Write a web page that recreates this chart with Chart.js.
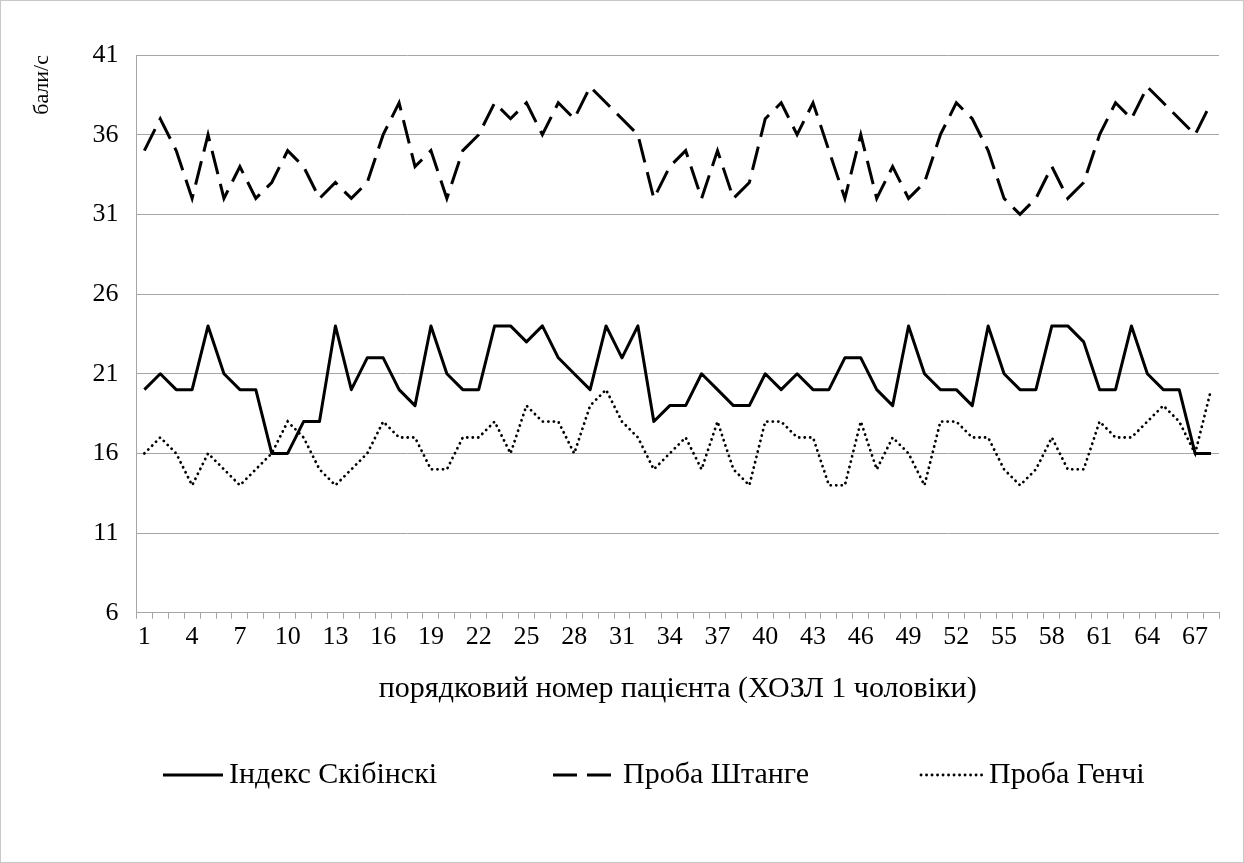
<!DOCTYPE html>
<html lang="uk">
<head>
<meta charset="UTF-8">
<title>ХОЗЛ 1 чоловіки</title>
<script src="https://cdn.jsdelivr.net/npm/chart.js"></script>
<style>
    html, body { margin: 0; padding: 0; background: #fff; }
    .frame {
        width: 1244px;
        height: 863px;
        box-sizing: border-box;
        border: 1px solid #c8c8c8;
        position: relative;
    }
    canvas { display: block; }
</style>
</head>
<body>
<div class="frame">
    <canvas id="chart" width="1242" height="861"></canvas>
</div>
<script>
    // patient number 1..68
    const patients = Array.from({ length: 68 }, (_, i) => String(i + 1));

    const skibinski = [
        20, 21, 20, 20, 24, 21, 20, 20, 16, 16, 18, 18, 24, 20, 22, 22, 20, 19, 24, 21,
        20, 20, 24, 24, 23, 24, 22, 21, 20, 24, 22, 24, 18, 19, 19, 21, 20, 19, 19, 21,
        20, 21, 20, 20, 22, 22, 20, 19, 24, 21, 20, 20, 19, 24, 21, 20, 20, 24, 24, 23,
        20, 20, 24, 21, 20, 20, 16, 16
    ];

    const shtange = [
        35, 37, 35, 32, 36, 32, 34, 32, 33, 35, 34, 32, 33, 32, 33, 36, 38, 34, 35, 32,
        35, 36, 38, 37, 38, 36, 38, 37, 39, 38, 37, 36, 32, 34, 35, 32, 35, 32, 33, 37,
        38, 36, 38, 35, 32, 36, 32, 34, 32, 33, 36, 38, 37, 35, 32, 31, 32, 34, 32, 33,
        36, 38, 37, 39, 38, 37, 36, 38
    ];

    const genchi = [
        16, 17, 16, 14, 16, 15, 14, 15, 16, 18, 17, 15, 14, 15, 16, 18, 17, 17, 15, 15,
        17, 17, 18, 16, 19, 18, 18, 16, 19, 20, 18, 17, 15, 16, 17, 15, 18, 15, 14, 18,
        18, 17, 17, 14, 14, 18, 15, 17, 16, 14, 18, 18, 17, 17, 15, 14, 15, 17, 15, 15,
        18, 17, 17, 18, 19, 18, 16, 20
    ];

    const seriesNames = ['Індекс Скібінскі', 'Проба Штанге', 'Проба Генчі'];

    const FONT = "'Liberation Serif', 'Times New Roman', serif";

    // legend drawn by hand so the wide gaps of the original can be kept
    const legendPlugin = {
        id: 'wideLegend',
        afterDraw(chart) {
            const ctx = chart.ctx;
            const y = 774;
            const items = [
                { x1: 162, x2: 222 },
                { x1: 552, x2: 616 },
                { x1: 920, x2: 982 }
            ];
            ctx.save();
            chart.data.datasets.forEach((ds, i) => {
                const it = items[i];
                ctx.beginPath();
                ctx.strokeStyle = ds.borderColor;
                ctx.lineWidth = ds.borderWidth;
                ctx.lineCap = ds.borderCapStyle || 'butt';
                ctx.setLineDash(ds.borderDash || []);
                ctx.moveTo(it.x1, y);
                ctx.lineTo(it.x2, y);
                ctx.stroke();
                ctx.setLineDash([]);
                ctx.fillStyle = '#000';
                ctx.font = '30px ' + FONT;
                ctx.textBaseline = 'middle';
                ctx.fillText(ds.label, it.x2 + 6, y);
            });
            ctx.restore();
        }
    };

    new Chart(document.getElementById('chart'), {
        type: 'line',
        data: {
            labels: patients,
            datasets: [
                {
                    label: seriesNames[0],
                    data: skibinski,
                    borderColor: '#000',
                    borderWidth: 3,
                    pointRadius: 0,
                    tension: 0,
                    borderJoinStyle: 'round'
                },
                {
                    label: seriesNames[1],
                    data: shtange,
                    borderColor: '#000',
                    borderWidth: 3,
                    borderDash: [24, 10],
                    pointRadius: 0,
                    tension: 0
                },
                {
                    label: seriesNames[2],
                    data: genchi,
                    borderColor: '#000',
                    borderWidth: 2.8,
                    borderDash: [0.1, 5.4],
                    borderCapStyle: 'round',
                    pointRadius: 0,
                    tension: 0
                }
            ]
        },
        options: {
            responsive: false,
            animation: false,
            layout: { padding: { top: 54, right: 24, bottom: 155, left: 18 } },
            plugins: {
                legend: { display: false },
                tooltip: { enabled: false }
            },
            scales: {
                x: {
                    offset: true,
                    grid: {
                        offset: true,
                        drawOnChartArea: false,
                        drawTicks: true,
                        tickLength: 6,
                        color: '#a6a6a6'
                    },
                    border: { color: '#a6a6a6', width: 1 },
                    ticks: {
                        autoSkip: false,
                        maxRotation: 0,
                        padding: 3,
                        color: '#000',
                        font: { family: FONT, size: 26 },
                        callback: function (val, idx) {
                            return idx % 3 === 0 ? this.getLabelForValue(val) : '';
                        }
                    },
                    title: {
                        display: true,
                        text: 'порядковий номер пацієнта (ХОЗЛ 1 чоловіки)',
                        color: '#000',
                        font: { family: FONT, size: 30 },
                        padding: { top: 15, bottom: 0 }
                    }
                },
                y: {
                    min: 6,
                    max: 41,
                    grid: { color: '#a6a6a6', drawTicks: false },
                    border: { color: '#a6a6a6', width: 1 },
                    ticks: {
                        stepSize: 5,
                        padding: 18,
                        color: '#000',
                        font: { family: FONT, size: 26 }
                    },
                    title: {
                        display: true,
                        text: 'бали/с',
                        align: 'end',
                        color: '#000',
                        font: { family: FONT, size: 22 },
                        padding: { top: 10, bottom: 19 }
                    }
                }
            }
        },
        plugins: [legendPlugin]
    });
</script>
</body>
</html>
